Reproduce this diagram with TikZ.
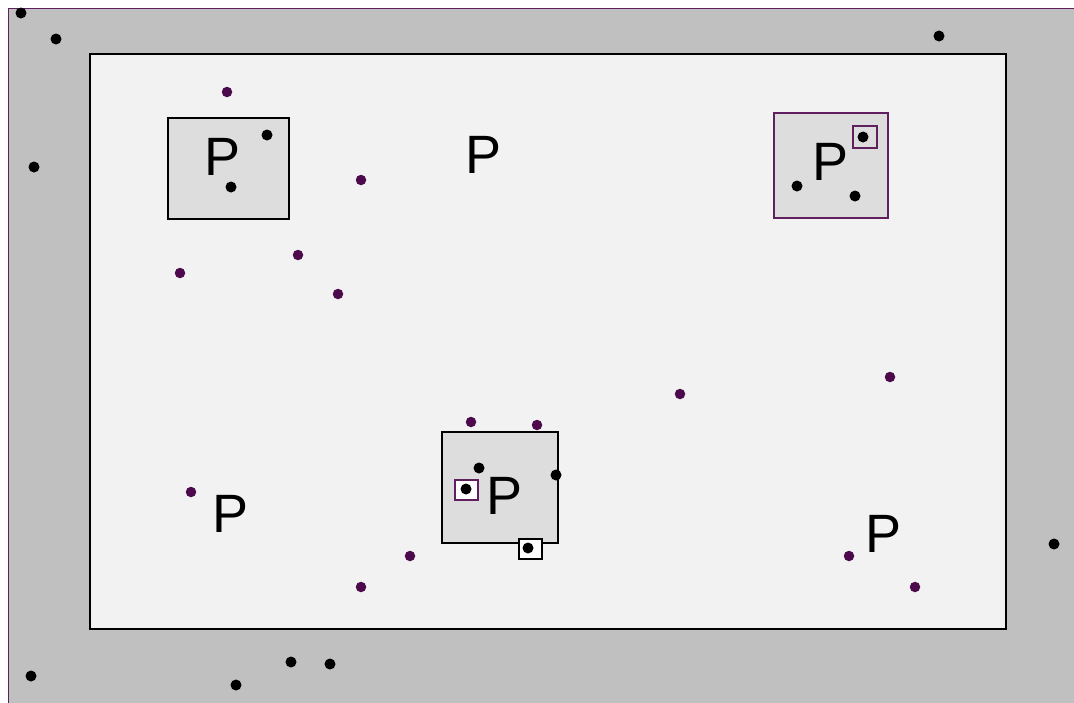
\documentclass[tikz,border=0pt]{standalone}
\usepackage{fontspec}
\setmainfont{Liberation Sans}
\usetikzlibrary{positioning}
\definecolor{margin}{RGB}{192,192,192}
\definecolor{field}{RGB}{242,242,242}
\definecolor{cell}{RGB}{221,221,221}
\definecolor{plum}{RGB}{96,32,96}
\definecolor{plumdot}{RGB}{76,10,76}
\tikzset{
  pin/.style={circle,fill=black,inner sep=0pt,minimum size=11pt},
  seed/.style={circle,fill=plumdot,inner sep=0pt,minimum size=10.5pt},
  tag/.style={inner sep=0pt,font=\fontsize{54}{60}\selectfont},
  cellbox/.style={draw=black,fill=cell,line width=1.3pt,inner sep=0pt},
  plumbox/.style={cellbox,draw=plum},
  port/.style={draw=black,fill=white,line width=1.2pt,inner sep=0pt,
    minimum width=23pt,minimum height=20pt}
}

\begin{document}
\begin{tikzpicture}[x=1pt,y=-1pt]
  \useasboundingbox (0,0) rectangle (1074,702);
  \fill[white] (0,0) rectangle (1074,702);
  % outer margin
  \begin{scope}
    \clip (0,0) rectangle (1074,702);
    \fill[margin] (8,8) rectangle (1080,710);
    \draw[plum,line width=1pt] (8,710) -- (8,8) -- (1080,8);
  \end{scope}
  % field
  \node[draw=black,fill=field,line width=1.4pt,inner sep=0pt,
    minimum width=916pt,minimum height=575pt] (field) at (548,341.5) {};

  % cells
  \node[cellbox,minimum width=121pt,minimum height=101pt] (cellA) at (228.5,168.5) {};
  \node[plumbox,minimum width=114pt,minimum height=105pt] (cellB) at (831,165.5) {};
  \node[cellbox,minimum width=116pt,minimum height=111pt] (cellC) at (500,487.5) {};
  \node[plumbox,fill=cell,minimum width=24pt,minimum height=22pt] (portB) at (865,137) {};
  \node[port,draw=plum] (portC) at (466.5,490) {};
  \node[port] (portD) at (530.5,549) {};

  % labels
  \node[tag] (pA) at (223,157) {P};
  \node[tag] (pB) at (831,162) {P};
  \node[tag] (pC) at (505,496) {P};
  \node[tag] (pD) at (484,155) {P};
  \node[tag] (pE) at (231,514) {P};
  \node[tag] (pF) at (883,534) {P};

  % black points
  \foreach \x/\y [count=\i] in {267/135, 231/187, 797/186, 855/196, 863/137,
      479/468, 556/475, 466/489, 528/548,
      21/13, 56/39, 34/167, 939/36, 1054/544, 31/676, 236/685, 291/662, 330/664}
    \node[pin] (pt\i) at (\x,\y) {};

  % purple points
  \foreach \x/\y [count=\i] in {227/92, 361/180, 180/273, 298/255, 338/294,
      680/394, 890/377, 471/422, 537/425, 410/556, 361/587, 191/492,
      849/556, 915/587}
    \node[seed] (sd\i) at (\x,\y) {};
\end{tikzpicture}
\end{document}
